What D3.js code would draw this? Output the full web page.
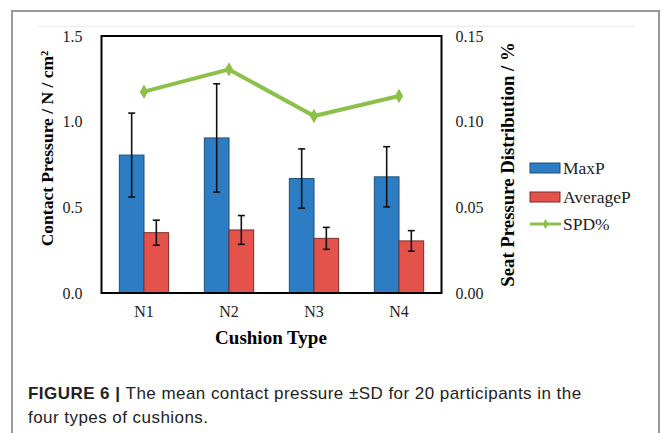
<!DOCTYPE html>
<html><head><meta charset="utf-8">
<script src="https://cdn.jsdelivr.net/npm/d3@7"></script>
<style>body{margin:0;background:#fff}svg{display:block}</style>
</head><body>
<svg id="c" width="662" height="433"></svg>
<script>
const categories = ["N1","N2","N3","N4"];
const maxP = [0.805, 0.905, 0.668, 0.678];
const maxPSD = [0.245, 0.316, 0.173, 0.176];
const avgP = [0.352, 0.368, 0.319, 0.304];
const avgPSD = [0.073, 0.084, 0.064, 0.060];
const spd = [0.1175, 0.1305, 0.1033, 0.115];
const leftTicks = [0, 0.5, 1.0, 1.5];
const rightTicks = [0, 0.05, 0.10, 0.15];
const seriesNames = ["MaxP","AverageP","SPD%"];

const svg = d3.select("#c");
const L = 101.5, R = 441.5, T = 36, B = 293;
const serif = "'Liberation Serif','Times New Roman',serif";
const sans = "'Liberation Sans',Arial,Helvetica,sans-serif";
const blue = "#2d7dc5", blueS = "#1f4f78", red = "#e4524c", redS = "#7d2b29", green = "#8cc04a";

// frame
svg.append("rect").attr("x",12).attr("y",11).attr("width",647).attr("height",440)
  .attr("fill","none").attr("stroke","#9a9a9a").attr("stroke-width",2);
svg.append("line").attr("x1",38).attr("x2",635).attr("y1",26.5).attr("y2",26.5)
  .attr("stroke","#eeeeee").attr("stroke-width",1.5);

const x = d3.scaleBand().domain(categories).range([L,R]).paddingInner(0.42).paddingOuter(0.21);
const x2 = d3.scaleBand().domain([0,1]).range([0,x.bandwidth()]);
const y = d3.scaleLinear().domain([0,1.5]).range([B,T]);
const y2 = d3.scaleLinear().domain([0,0.15]).range([B,T]);

// bars
const g = svg.append("g");
const bars = [{v:maxP,sd:maxPSD,f:blue,s:blueS},{v:avgP,sd:avgPSD,f:red,s:redS}];
bars.forEach((b,i)=>{
  categories.forEach((c,j)=>{
    const bx = x(c)+x2(i), bw = x2.bandwidth();
    g.append("rect").attr("x",bx).attr("y",y(b.v[j])).attr("width",bw).attr("height",B-y(b.v[j]))
      .attr("fill",b.f).attr("stroke",b.s).attr("stroke-width",1);
  });
});
// error bars
bars.forEach((b,i)=>{
  categories.forEach((c,j)=>{
    const cx = x(c)+x2(i)+x2.bandwidth()/2;
    const y1 = y(b.v[j]+b.sd[j]), y0 = y(b.v[j]-b.sd[j]);
    g.append("line").attr("x1",cx).attr("x2",cx).attr("y1",y1).attr("y2",y0).attr("stroke","#111").attr("stroke-width",1.6);
    [y1,y0].forEach(yy=>g.append("line").attr("x1",cx-3.5).attr("x2",cx+3.5).attr("y1",yy).attr("y2",yy).attr("stroke","#111").attr("stroke-width",1.6));
  });
});
// SPD line
const cxp = c => x(c)+x.bandwidth()/2;
svg.append("path").datum(spd)
  .attr("d", d3.line().x((d,i)=>cxp(categories[i])).y(d=>y2(d)))
  .attr("fill","none").attr("stroke",green).attr("stroke-width",4).attr("stroke-linejoin","round");
const diamond = d3.symbol().type(d3.symbolDiamond).size(60);
spd.forEach((d,i)=>svg.append("path").attr("d",diamond()).attr("fill",green)
  .attr("transform",`translate(${cxp(categories[i])},${y2(d)})`));

// plot box
svg.append("rect").attr("x",L).attr("y",T).attr("width",R-L).attr("height",B-T)
  .attr("fill","none").attr("stroke","#000").attr("stroke-width",2);

// axes
const la = svg.append("g").attr("transform",`translate(${L-19},0)`)
  .call(d3.axisLeft(y).tickValues(leftTicks).tickFormat(d3.format(".1f")).tickSize(0).tickPadding(0));
const ra = svg.append("g").attr("transform",`translate(${R+14},0)`)
  .call(d3.axisRight(y2).tickValues(rightTicks).tickFormat(d3.format(".2f")).tickSize(0).tickPadding(0));
const ba = svg.append("g").attr("transform",`translate(0,${B+13})`)
  .call(d3.axisBottom(x).tickSize(0).tickPadding(0));
[la,ra,ba].forEach(a=>{
  a.select(".domain").remove();
  a.selectAll("text").attr("font-family",serif).attr("font-size",16).attr("fill","#222");
});
ba.selectAll("text").attr("dy","0.71em");

// titles
svg.append("text").attr("x",271).attr("y",344).attr("text-anchor","middle")
  .attr("font-family",serif).attr("font-weight","bold").attr("font-size",19).text("Cushion Type");
svg.append("text").attr("transform","translate(53,148.5) rotate(-90)").attr("text-anchor","middle")
  .attr("font-family",serif).attr("font-weight","bold").attr("font-size",17.5)
  .text("Contact Pressure / N / cm²");
svg.append("text").attr("transform","translate(513.5,164.5) rotate(-90)").attr("text-anchor","middle")
  .attr("font-family",serif).attr("font-weight","bold").attr("font-size",18.8)
  .text("Seat Pressure Distribution / %");

// legend
const lg = svg.append("g");
const ly = [168, 197, 224];
lg.append("rect").attr("x",530).attr("y",ly[0]-5).attr("width",30).attr("height",10).attr("fill",blue).attr("stroke",blueS);
lg.append("rect").attr("x",530).attr("y",ly[1]-5).attr("width",30).attr("height",10).attr("fill",red).attr("stroke",redS);
lg.append("line").attr("x1",530).attr("x2",561).attr("y1",ly[2]).attr("y2",ly[2]).attr("stroke",green).attr("stroke-width",3);
lg.append("path").attr("d",d3.symbol().type(d3.symbolDiamond).size(30)()).attr("fill",green).attr("transform",`translate(545.5,${ly[2]})`);
seriesNames.forEach((n,i)=>lg.append("text").attr("x",563).attr("y",ly[i]).attr("dy","0.35em")
  .attr("font-family",serif).attr("font-size",17.5).attr("fill","#222").text(n));

// caption
const cap = svg.append("text").attr("x",28).attr("y",399).attr("font-family",sans).attr("font-size",17)
  .attr("letter-spacing",0.45).attr("fill","#222");
cap.append("tspan").attr("font-weight","bold").text("FIGURE 6 | ");
cap.append("tspan").text("The mean contact pressure \u00B1SD for 20 participants in the");
svg.append("text").attr("x",28).attr("y",423).attr("font-family",sans).attr("font-size",17)
  .attr("letter-spacing",0.45).attr("fill","#222")
  .text("four types of cushions.");
</script>
</body></html>
